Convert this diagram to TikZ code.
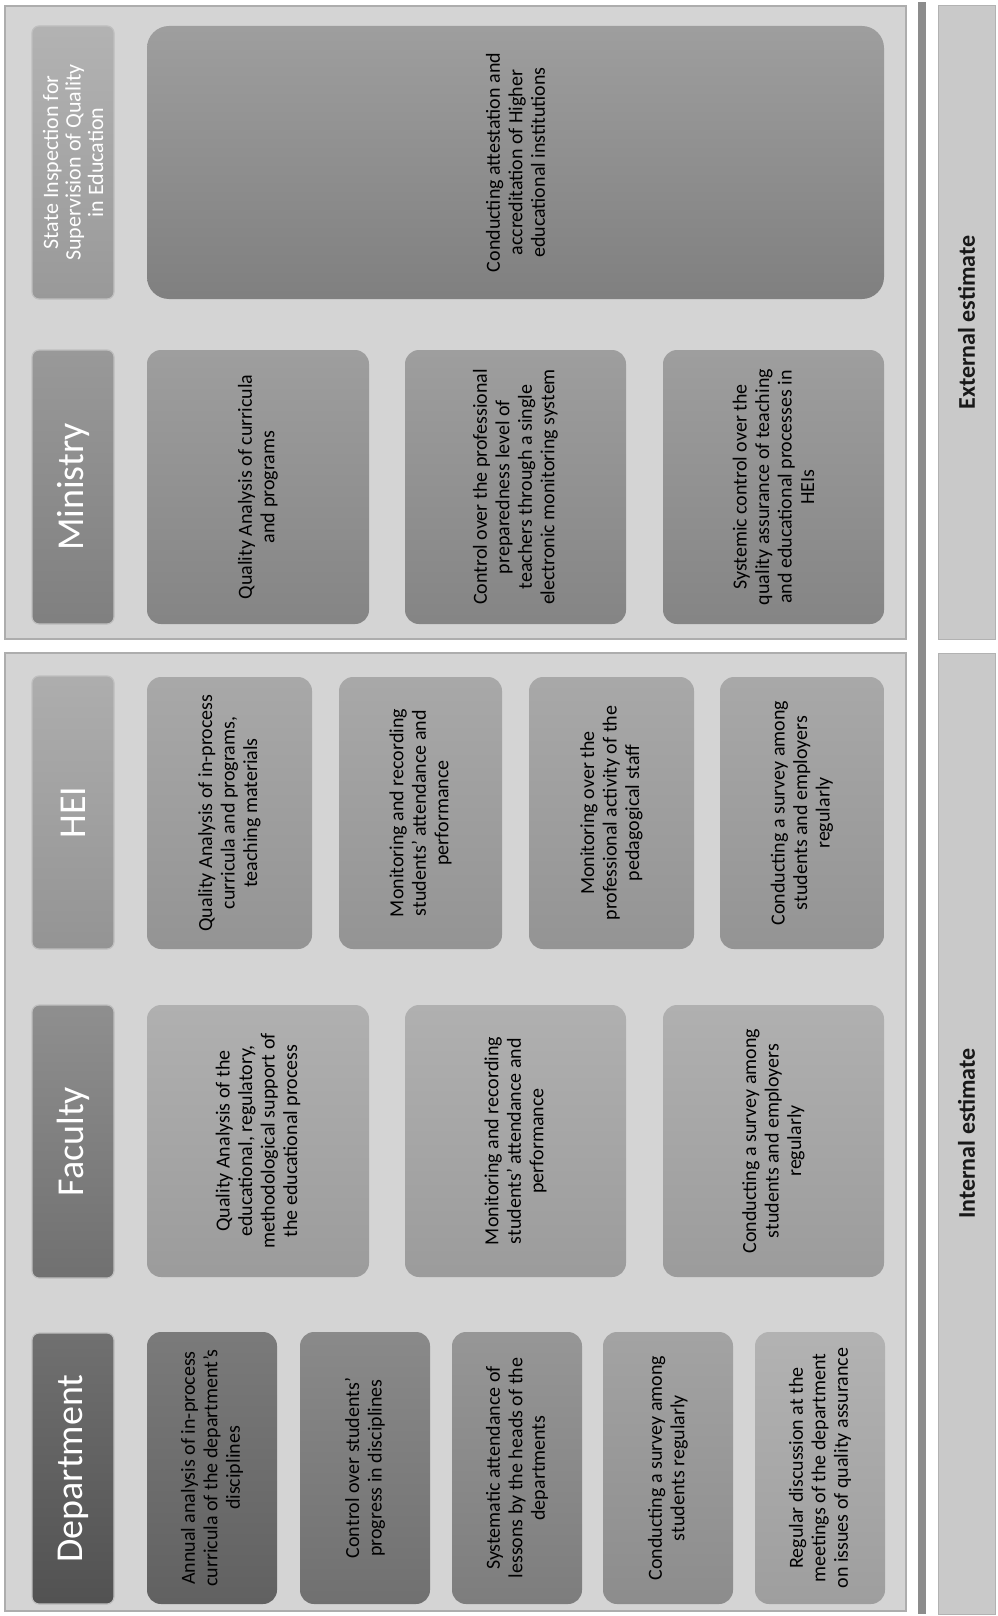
\documentclass[tikz,border=0pt]{standalone}
\usepackage{fontspec}
\setmainfont{Carlito}
\newcommand{\mkbox}[7]{%
 \pgfmathsetmacro\cx{(#3+#5)/2}\pgfmathsetmacro\cy{(#4+#6)/2}%
 \pgfmathsetmacro\bw{#6-#4}\pgfmathsetmacro\bh{#5-#3}%
 \node[#1,minimum width=\bw pt,minimum height=\bh pt] (#2) at (\cx,\cy) {#7};}
\begin{document}
\begin{tikzpicture}[x=1pt,y=-1pt,
 panel/.style={rotate=90,draw=black!32,fill=black!17,line width=1.2pt,inner sep=0pt},
 hdr/.style={rotate=90,rounded corners=7pt,draw=white!75!black,line width=1.2pt,text=white,font=\fontsize{38}{40}\selectfont,align=center,inner sep=0pt},
 item/.style={rotate=90,rounded corners=14pt,draw=none,text=black,font=\fontsize{20}{22.5}\selectfont,align=center,inner sep=0pt},
 est/.style={rotate=90,draw=black!30,line width=1pt,fill=black!21,text=black!90,font=\bfseries\fontsize{24}{26}\selectfont,inner sep=0pt},
 bar/.style={rotate=90,fill=black!45,draw=none,inner sep=0pt}
]
\useasboundingbox[fill=white] (0,0) rectangle (997,1616);
% panels
\mkbox{panel}{extpanel}{5}{6}{906}{639}{}
\mkbox{panel}{intpanel}{5}{653}{906}{1611}{}
\mkbox{bar}{vbar}{918}{2}{926}{1614}{}
\mkbox{est}{extest}{938}{6}{995}{639}{External estimate}
\mkbox{est}{intest}{938}{653}{995}{1614}{Internal estimate}
% headers
\mkbox{hdr,top color=black!56,bottom color=black!68}{hdep}{32}{1333}{114}{1604}{Department}
\mkbox{hdr,top color=black!44,bottom color=black!56}{hfac}{32}{1005}{114}{1278}{Faculty}
\mkbox{hdr,top color=black!32,bottom color=black!42}{hhei}{32}{676}{114}{949}{HEI}
\mkbox{hdr,top color=black!40,bottom color=black!50}{hmin}{32}{350}{114}{624}{Ministry}
\mkbox{hdr,top color=black!30,bottom color=black!40,font=\fontsize{22}{22.5}\selectfont}{hsta}{32}{26}{114}{299}{State Inspection for\\Supervision of Quality\\in Education}
% department items
\mkbox{item,top color=black!52,bottom color=black!62}{d1}{147}{1332}{277}{1604}{Annual analysis of in-process\\curricula of the department's\\disciplines}
\mkbox{item,top color=black!46,bottom color=black!56}{d2}{300}{1332}{430}{1604}{Control over students'\\progress in disciplines}
\mkbox{item,top color=black!41,bottom color=black!51}{d3}{452}{1332}{582}{1604}{Systematic attendance of\\lessons by the heads of the\\departments}
\mkbox{item,top color=black!36,bottom color=black!45}{d4}{603}{1332}{733}{1604}{Conducting a survey among\\students regularly}
\mkbox{item,top color=black!30,bottom color=black!38}{d5}{755}{1332}{885}{1604}{Regular discussion at the\\meetings of the department\\on issues of quality assurance}
% faculty items
\mkbox{item,top color=black!31,bottom color=black!39}{f1}{147}{1005}{369}{1277}{Quality Analysis of the\\educational, regulatory,\\methodological support of\\the educational process}
\mkbox{item,top color=black!31,bottom color=black!39}{f2}{405}{1005}{626}{1277}{Monitoring and recording\\students' attendance and\\performance}
\mkbox{item,top color=black!31,bottom color=black!39}{f3}{663}{1005}{884}{1277}{Conducting a survey among\\students and employers\\regularly}
% HEI items
\mkbox{item,top color=black!34,bottom color=black!42}{e1}{147}{677}{312}{949}{Quality Analysis of in-process\\curricula and programs,\\teaching materials}
\mkbox{item,top color=black!34,bottom color=black!42}{e2}{339}{677}{502}{949}{Monitoring and recording\\students' attendance and\\performance}
\mkbox{item,top color=black!34,bottom color=black!42}{e3}{529}{677}{694}{949}{Monitoring over the\\professional activity of the\\pedagogical staff}
\mkbox{item,top color=black!34,bottom color=black!42}{e4}{720}{677}{884}{949}{Conducting a survey among\\students and employers\\regularly}
% ministry items
\mkbox{item,top color=black!38,bottom color=black!48}{m1}{147}{350}{369}{624}{Quality Analysis of curricula\\and programs}
\mkbox{item,top color=black!38,bottom color=black!48}{m2}{405}{350}{626}{624}{Control over the professional\\preparedness level of\\teachers through a single\\electronic monitoring system}
\mkbox{item,top color=black!38,bottom color=black!48}{m3}{663}{350}{884}{624}{Systemic control over the\\quality assurance of teaching\\and educational processes in\\HEIs}
% state item
\mkbox{item,rounded corners=22pt,top color=black!38,bottom color=black!50}{s1}{147}{26}{884}{299}{Conducting attestation and\\accreditation of Higher\\educational institutions}
\end{tikzpicture}
\end{document}
